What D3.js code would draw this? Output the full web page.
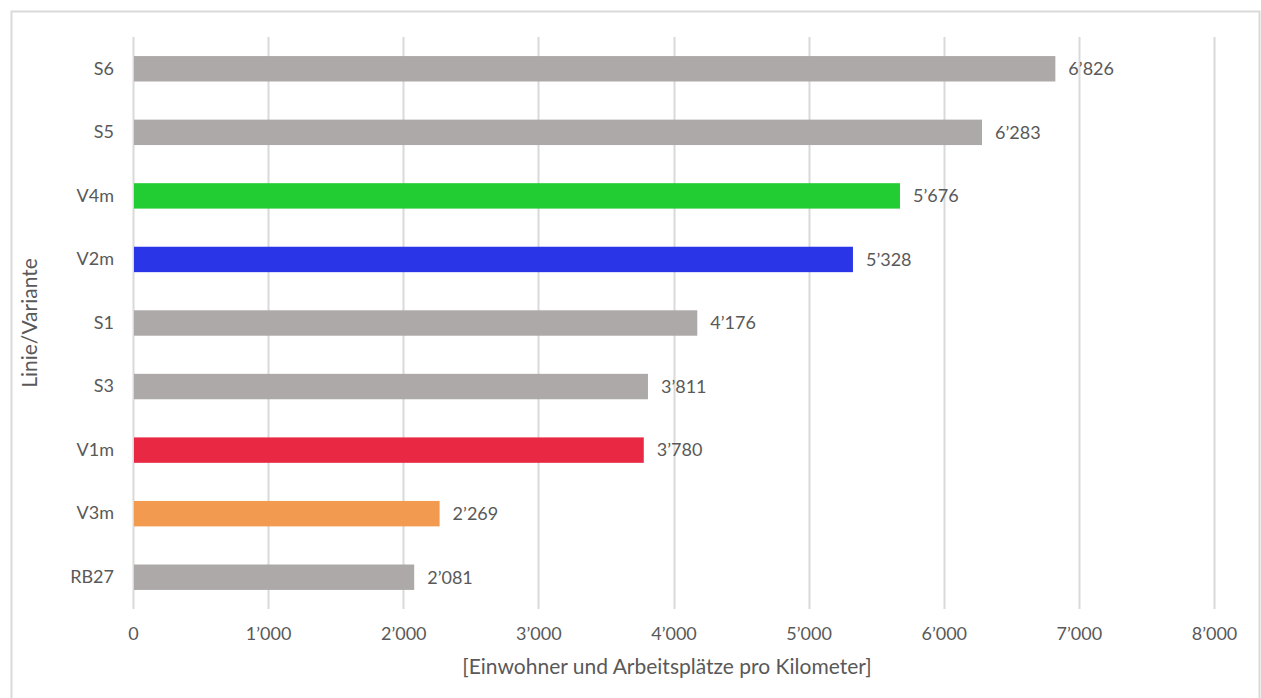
<!DOCTYPE html>
<html>
<head>
<meta charset="utf-8">
<script src="https://cdn.jsdelivr.net/npm/d3@7"></script>
<style>
  html, body { margin: 0; padding: 0; background: #fff; }
  svg { display: block; }
  text { font-family: Lato, "Open Sans", sans-serif; fill: #595959; }
</style>
</head>
<body>
<svg id="chart" width="1261" height="698"></svg>
<script>
// Einwohner und Arbeitsplätze pro Kilometer je Linie/Variante
const categories = ["S6", "S5", "V4m", "V2m", "S1", "S3", "V1m", "V3m", "RB27"];
const values     = [6826, 6283, 5676, 5328, 4176, 3811, 3780, 2269, 2081];
const barColors  = ["#ADA9A8", "#ADA9A8", "#22CC33", "#2A35E8", "#ADA9A8", "#ADA9A8", "#E92843", "#F29B50", "#ADA9A8"];
const xTicks     = [0, 1000, 2000, 3000, 4000, 5000, 6000, 7000, 8000];
const xTitle     = "[Einwohner und Arbeitsplätze pro Kilometer]";
const yTitle     = "Linie/Variante";

const locale = d3.formatLocale({ decimal: ".", thousands: "’", grouping: [3], currency: ["", ""] });
const fmt = locale.format(",d");

const svg = d3.select("#chart");
const plot = { left: 133, right: 1214, top: 37, bottom: 609 };
const labelSize = 18;
const titleSize = 21;

// chart frame
svg.append("rect")
  .attr("x", 11.5).attr("y", 11.5)
  .attr("width", 1248).attr("height", 700)
  .attr("fill", "none").attr("stroke", "#D9D9D9").attr("stroke-width", 2);

const x = d3.scaleLinear().domain([0, 8000]).range([plot.left, plot.right]);
const y = d3.scaleBand().domain(categories).range([plot.top, plot.bottom]).paddingInner(0.6).paddingOuter(0.3);

// vertical gridlines
svg.append("g").selectAll("line").data(xTicks).join("line")
  .attr("x1", d => Math.round(x(d)) + 0.5).attr("x2", d => Math.round(x(d)) + 0.5)
  .attr("y1", plot.top).attr("y2", plot.bottom)
  .attr("stroke", "#D9D9D9").attr("stroke-width", 2);

// bars
svg.append("g").selectAll("rect").data(categories).join("rect")
  .attr("x", x(0) + 1)
  .attr("y", d => y(d))
  .attr("width", (d, i) => x(values[i]) - x(0) - 1)
  .attr("height", y.bandwidth())
  .attr("fill", (d, i) => barColors[i]);

// value labels
svg.append("g").selectAll("text").data(categories).join("text")
  .attr("x", (d, i) => x(values[i]) + 13)
  .attr("y", d => y(d) + y.bandwidth() / 2)
  .attr("dy", "0.35em")
  .attr("font-size", labelSize)
  .text((d, i) => fmt(values[i]));

// x axis tick labels
const xAxis = d3.axisBottom(x).tickValues(xTicks).tickSize(0).tickPadding(0).tickFormat(fmt);
const gx = svg.append("g").attr("transform", `translate(0, ${plot.bottom + 18})`).call(xAxis);
gx.select(".domain").remove();
gx.selectAll("text").attr("font-size", labelSize).attr("fill", "#595959")
  .style("font-family", "Lato, 'Open Sans', sans-serif");

// y axis category labels
const yAxis = d3.axisLeft(y).tickSize(0).tickPadding(19);
const gy = svg.append("g").attr("transform", `translate(${plot.left}, 0)`).call(yAxis);
gy.select(".domain").remove();
gy.selectAll("text").attr("font-size", labelSize).attr("fill", "#595959")
  .style("font-family", "Lato, 'Open Sans', sans-serif");

// axis titles
svg.append("text")
  .attr("x", 667).attr("y", 667)
  .attr("text-anchor", "middle").attr("dy", "0.35em")
  .attr("font-size", titleSize)
  .text(xTitle);

svg.append("text")
  .attr("transform", `translate(30, 323) rotate(-90)`)
  .attr("text-anchor", "middle").attr("dy", "0.35em")
  .attr("font-size", titleSize)
  .text(yTitle);
</script>
</body>
</html>
